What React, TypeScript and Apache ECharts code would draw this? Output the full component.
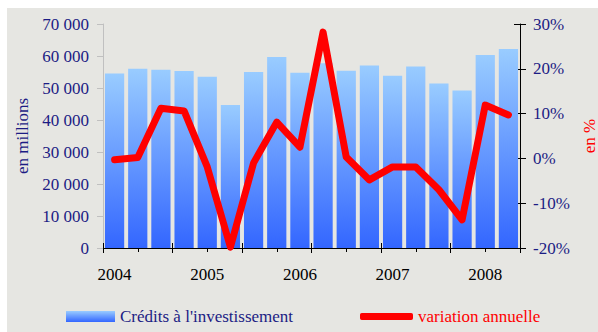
import React, { useEffect, useRef } from "react";
import * as echarts from "echarts";

// Quarterly investment credit figures, 2004 Q1 – 2008 Q2
const quarters = [
  "2004 T1", "2004 T2", "2004 T3", "2004 T4",
  "2005 T1", "2005 T2", "2005 T3", "2005 T4",
  "2006 T1", "2006 T2", "2006 T3", "2006 T4",
  "2007 T1", "2007 T2", "2007 T3", "2007 T4",
  "2008 T1", "2008 T2",
];
// Outstanding investment credits, in millions
const credits = [
  54500, 56000, 55700, 55300, 53500, 44700, 55000, 59700,
  54800, 57700, 55400, 57000, 53800, 56700, 51400, 49200,
  60300, 62200,
];
// Year-on-year change, in %
const annualChange = [
  -0.3, 0.2, 11.2, 10.6, -1.9, -19.8, -1.0, 8.1,
  2.5, 28.2, 0.3, -4.8, -1.9, -1.9, -7.0, -13.7,
  11.9, 9.7,
];

const SERIF = "Liberation Serif";
const NAVY = "#1c1c84";
const FS = 17;

const fmtThousands = (v: number) =>
  String(v).replace(/\B(?=(\d{3})+(?!\d))/g, " ");

export default function App() {
  const ref = useRef<HTMLDivElement>(null);

  useEffect(() => {
    if (!ref.current) return;
    const chart = echarts.init(ref.current, undefined, { renderer: "svg" });

    const barGradient = new echarts.graphic.LinearGradient(0, 0, 0, 1, [
      { offset: 0, color: "#99ccff" },
      { offset: 1, color: "#3366ff" },
    ]);

    // Extra value axes that only carry the tick marks under the year axis
    const tickAxis = (inside: boolean, length: number, minor: boolean) => ({
      type: "value",
      gridIndex: 0,
      position: "bottom",
      min: 0,
      max: 12,
      interval: 2,
      axisLine: { show: false, onZero: false },
      axisLabel: { show: false },
      splitLine: { show: false },
      axisTick: { show: true, inside, length, lineStyle: { color: "#000", width: 1 } },
      minorTick: { show: minor, splitNumber: 2, length: 4, lineStyle: { color: "#000", width: 1 } },
    });

    chart.setOption({
      animation: false,
      backgroundColor: "#ffffff",
      textStyle: { fontFamily: SERIF },
      graphic: [
        {
          type: "rect",
          z: -10,
          silent: true,
          shape: { x: 7, y: 8, width: 591, height: 324 },
          style: { fill: "#e6e6e2" },
        },
      ],
      grid: {
        left: 103,
        right: 78,
        top: 24,
        bottom: 84,
        containLabel: false,
        outerBoundsMode: "none",
      },
      legend: [
        {
          left: 61,
          top: 303,
          itemWidth: 49,
          itemHeight: 11,
          itemGap: 0,
          icon: "rect",
          data: ["Crédits à l'investissement"],
          textStyle: { color: NAVY, fontSize: FS, fontFamily: SERIF },
        },
        {
          left: 355,
          top: 303,
          itemWidth: 53,
          itemHeight: 7,
          icon: "roundRect",
          data: ["variation annuelle"],
          textStyle: { color: "#ff0000", fontSize: FS, fontFamily: SERIF },
        },
      ],
      xAxis: [
        {
          type: "category",
          data: quarters,
          boundaryGap: true,
          axisLine: { show: true, onZero: false, lineStyle: { color: "#000", width: 1 } },
          axisTick: { show: false },
          axisLabel: {
            interval: 3,
            margin: 18,
            color: "#000",
            fontSize: FS,
            fontFamily: SERIF,
            formatter: (v: string) => v.slice(0, 4),
          },
          splitLine: { show: false },
        },
        tickAxis(false, 5, true),
        tickAxis(true, 5, false),
      ],
      yAxis: [
        {
          type: "value",
          min: 0,
          max: 70000,
          interval: 10000,
          position: "left",
          name: "en millions",
          nameLocation: "middle",
          nameRotate: 90,
          nameGap: 72,
          nameTextStyle: { color: NAVY, fontSize: FS, fontFamily: SERIF },
          axisLine: { show: true, onZero: false, lineStyle: { color: "#c0c0c0", width: 1 } },
          axisTick: { show: true, length: 6, lineStyle: { color: "#c0c0c0" } },
          axisLabel: {
            margin: 14,
            color: NAVY,
            fontSize: FS,
            fontFamily: SERIF,
            formatter: (v: number) => fmtThousands(v),
          },
          splitLine: { show: false },
        },
        {
          type: "value",
          min: -20,
          max: 30,
          interval: 10,
          position: "right",
          name: "en %",
          nameLocation: "middle",
          nameRotate: 90,
          nameGap: 57,
          nameTextStyle: { color: "#ff0000", fontSize: FS, fontFamily: SERIF },
          axisLine: { show: true, onZero: false, lineStyle: { color: "#000", width: 1 } },
          axisTick: { show: true, length: 6, lineStyle: { color: "#000" } },
          axisLabel: {
            margin: 13,
            color: NAVY,
            fontSize: FS,
            fontFamily: SERIF,
            formatter: (v: number) => `${v}%`,
          },
          splitLine: { show: false },
        },
        {
          type: "value",
          min: -20,
          max: 30,
          interval: 10,
          position: "right",
          axisLine: { show: false, onZero: false },
          axisTick: { show: true, inside: true, length: 6, lineStyle: { color: "#000" } },
          axisLabel: { show: false },
          splitLine: { show: false },
        },
      ],
      series: [
        {
          name: "Crédits à l'investissement",
          type: "bar",
          xAxisIndex: 0,
          yAxisIndex: 0,
          data: credits,
          barCategoryGap: "17%",
          itemStyle: { color: barGradient },
        },
        {
          name: "variation annuelle",
          type: "line",
          xAxisIndex: 0,
          yAxisIndex: 1,
          data: annualChange,
          symbol: "none",
          lineStyle: { color: "#ff0000", width: 7, cap: "round", join: "round" },
          itemStyle: { color: "#ff0000" },
          z: 5,
        },
      ],
    });

    return () => chart.dispose();
  }, []);

  return (
    <div
      ref={ref}
      style={{ position: "fixed", left: 0, top: 0, width: 598, height: 332 }}
    />
  );
}
